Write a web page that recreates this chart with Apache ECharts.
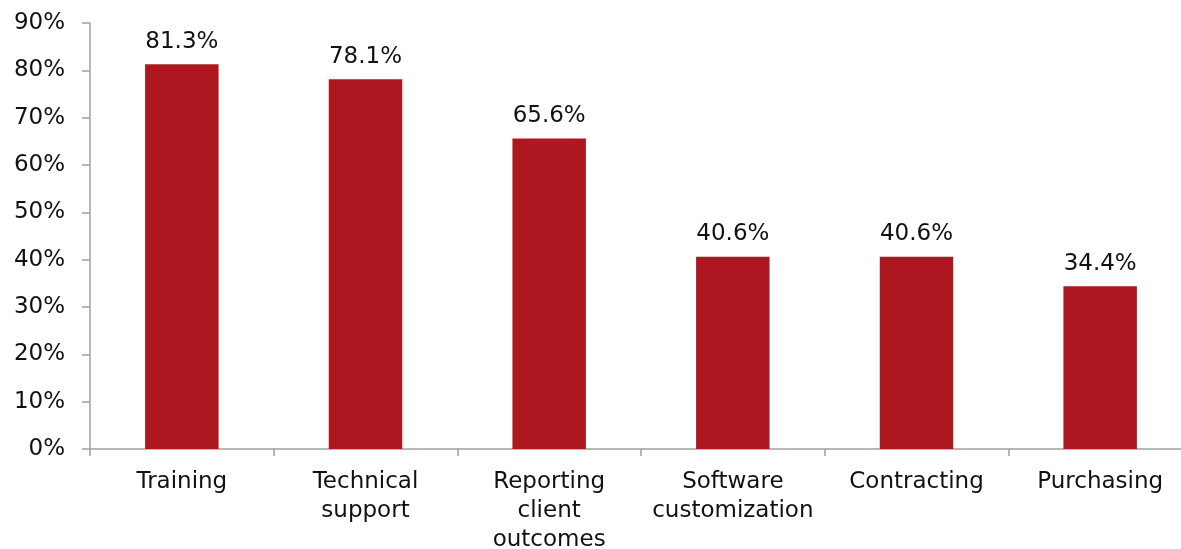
<!DOCTYPE html>
<html><head><meta charset="utf-8">
<script src="https://cdn.jsdelivr.net/npm/echarts@6/dist/echarts.min.js"></script>
<style>html,body{margin:0;padding:0;background:#fff;overflow:hidden}#c{width:1192px;height:549px}</style>
</head><body><div id="c"></div>
<script>
const categories = ["Training", "Technical\nsupport", "Reporting\nclient\noutcomes", "Software\ncustomization", "Contracting", "Purchasing"];
const values = [81.3, 78.1, 65.6, 40.6, 40.6, 34.4];
const yTicks = [0, 10, 20, 30, 40, 50, 60, 70, 80, 90];

const chart = echarts.init(document.getElementById('c'), null, {renderer: 'canvas'});
const font = '"DejaVu Sans", Verdana, sans-serif';
chart.setOption({
  animation: false,
  grid: {left: 90, top: 23, right: 0, bottom: 100, containLabel: false, outerBoundsMode: 'none'},
  xAxis: {
    type: 'category', data: categories,
    axisLine: {lineStyle: {color: '#A0A0A0', width: 1.5}},
    axisTick: {show: true, length: 7, alignWithLabel: false, lineStyle: {color: '#A0A0A0', width: 1.5}},
    axisLabel: {color: '#111', fontFamily: font, fontSize: 23, lineHeight: 29, margin: 19, interval: 0}
  },
  yAxis: {
    type: 'value', min: yTicks[0], max: yTicks[yTicks.length - 1], interval: 10,
    splitLine: {show: false},
    axisLine: {show: true, lineStyle: {color: '#A0A0A0', width: 1.5}},
    axisTick: {show: true, length: 8, lineStyle: {color: '#A0A0A0', width: 1.5}},
    axisLabel: {color: '#111', fontFamily: font, fontSize: 23, margin: 25, formatter: v => v + '%'}
  },
  series: [{
    type: 'bar', data: values, barWidth: '40%',
    itemStyle: {color: '#AD1820'},
    label: {show: true, position: 'top', distance: 11, color: '#111', fontFamily: font, fontSize: 23,
      formatter: p => p.value.toFixed(1) + '%'}
  }]
});
</script></body></html>
